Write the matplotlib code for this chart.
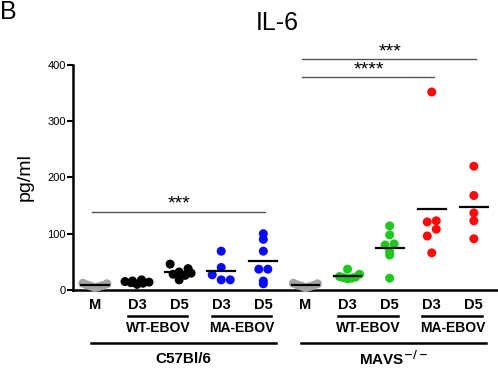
import numpy as np
import matplotlib
matplotlib.use('Agg')
import matplotlib.pyplot as plt

plt.rcParams['font.family'] = ['Liberation Sans', 'DejaVu Sans']

# values (pg/ml)
groups = ['M', 'D3', 'D5', 'D3', 'D5', 'M', 'D3', 'D5', 'D3', 'D5']
values = [
    [4, 6, 9, 11, 12, 8, 7],             # C57Bl/6 mock
    [10, 12, 14, 16, 18, 13, 15],        # C57Bl/6 WT-EBOV D3
    [46, 38, 32, 28, 30, 18, 26],        # C57Bl/6 WT-EBOV D5
    [69, 40, 27, 18, 18],                # C57Bl/6 MA-EBOV D3
    [100, 90, 69, 37, 37, 11, 16],       # C57Bl/6 MA-EBOV D5
    [4, 6, 9, 11, 12, 8, 7],             # MAVS-/- mock
    [37, 28, 22, 20, 24, 21, 23],        # MAVS-/- WT-EBOV D3
    [114, 98, 82, 80, 68, 62, 21],       # MAVS-/- WT-EBOV D5
    [352, 121, 123, 108, 96, 66],        # MAVS-/- MA-EBOV D3
    [220, 168, 137, 123, 91],            # MAVS-/- MA-EBOV D5
]
colors = ['#a3a3a3', 'black', 'black', '#0a0af5', '#0a0af5',
          '#a3a3a3', '#1ec81e', '#1ec81e', '#ff0a0a', '#ff0a0a']
infections = [('WT-EBOV', 1, 2), ('MA-EBOV', 3, 4), ('WT-EBOV', 6, 7), ('MA-EBOV', 8, 9)]
strains = [('C57Bl/6', 0, 4), ('MAVS$^{\\mathbf{-/-}}$', 5, 9)]
# (label, from group, to group, height)
sig = [('***', 0, 4, 139), ('****', 5, 8, 378), ('***', 5, 9, 410)]

fig = plt.figure(figsize=(4.98, 3.75), dpi=100)
ax = fig.add_axes([0.1466, 0.2267, 0.8514, 0.6])
ax.set_xlim(-0.52, 9.55)
ax.set_ylim(0, 400)

# px per data unit, for the column spread
px_x = 42.1
px_y = 225 / 400.0
diam = 9.0
max_spread = 12.0


def spread(vals):
    # points in the same band sit side by side, lowest in the middle
    bins = np.floor(vals * px_y / diam).astype(int)
    offs = np.zeros(len(vals))
    for b in np.unique(bins):
        idx = np.where(bins == b)[0]
        n = len(idx)
        idx = idx[np.argsort(vals[idx])]
        if n == 1:
            continue
        if n == 2:
            offs[idx[0]] = -diam / 2.0
            offs[idx[1]] = diam / 2.0
            continue
        half = (n - 1) // 2 + (n - 1) % 2
        step = min(diam, max_spread / half)
        for j, i in enumerate(idx):
            r = (j + 1) // 2
            offs[i] = r * step * (1 if j % 2 else -1)
    return offs / px_x


for k, vals in enumerate(values):
    vals = np.array(vals, dtype=float)
    xs = k + spread(vals)
    ax.scatter(xs, vals, s=42, color=colors[k], edgecolors='none', zorder=3, clip_on=False)
    ax.plot([k - 0.33, k + 0.33], [vals.mean()] * 2, color='black', lw=1.6, zorder=4)

for lab, a, b, h in sig:
    ax.plot([a - 0.07, b + 0.05], [h, h], color='#555555', lw=1, clip_on=False)
    ax.text((a + b) / 2.0, h + 6, lab, ha='center', va='baseline', fontsize=14,
            clip_on=False)

for s in ['top', 'right']:
    ax.spines[s].set_visible(False)
for s in ['left', 'bottom']:
    ax.spines[s].set_linewidth(1.8)
ax.set_yticks([0, 100, 200, 300, 400])
ax.tick_params(axis='y', direction='out', length=4, width=1.5, labelsize=8, pad=1)
ax.set_xticks(range(len(groups)))
ax.set_xticklabels(groups, fontsize=10.5, fontweight='bold')
ax.tick_params(axis='x', length=0, pad=6)
ax.set_ylabel('pg/ml', fontsize=14, labelpad=10)

tr = ax.get_xaxis_transform()
for lab, a, b in infections:
    ax.plot([a - 0.22, b + 0.19], [-0.1156, -0.1156], color='black', lw=1.8,
            transform=tr, clip_on=False)
    ax.text((a + b) / 2.0, -0.17, lab, ha='center', va='center', fontsize=10,
            fontweight='bold', transform=tr)
for lab, a, b in strains:
    ax.plot([a - 0.1, b + 0.3], [-0.2356, -0.2356], color='black', lw=1.8,
            transform=tr, clip_on=False)
    ax.text((a + b) / 2.0 + 0.1, -0.305, lab, ha='center', va='center', fontsize=11,
            fontweight='bold', transform=tr)

fig.text(0.556, 0.94, 'IL-6', ha='center', va='center', fontsize=18)
fig.text(0.0, 1.0, 'B', ha='left', va='top', fontsize=18)

fig.savefig('out.png', dpi=100)
